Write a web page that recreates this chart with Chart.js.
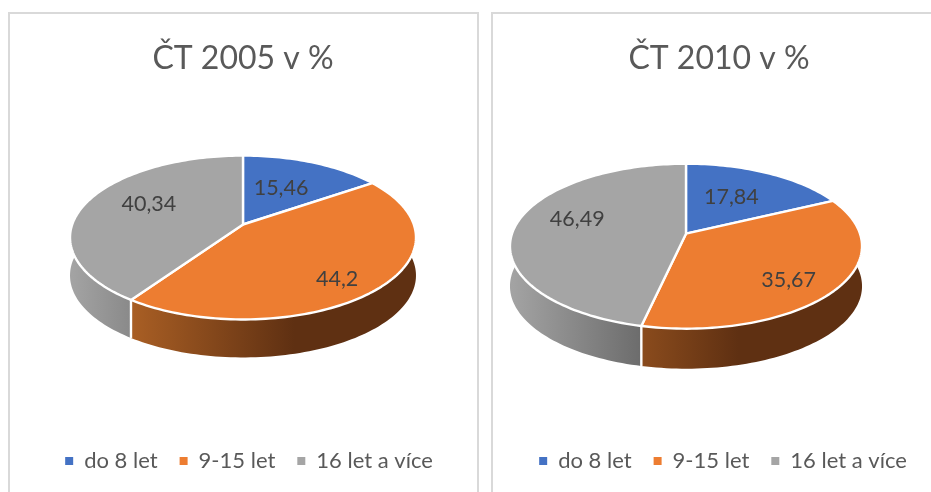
<!DOCTYPE html>
<html lang="cs">
<head>
<meta charset="utf-8">
<title>ČT 2005 a 2010</title>
<script src="https://cdn.jsdelivr.net/npm/chart.js@4"></script>
<style>
html,body{margin:0;padding:0;width:931px;height:492px;overflow:hidden;background:#fff}
.panel{position:absolute;top:12px;height:500px;border:2px solid #d9d9d9;box-sizing:border-box;background:#fff}
.holder{position:absolute;top:0;height:482px}
canvas{display:block}
</style>
</head>
<body>
<div class="panel" style="left:8px;width:471px"></div>
<div class="panel" style="left:491px;width:470px"></div>
<div class="holder" style="left:8px;width:470px"><canvas id="c1" width="470" height="482"></canvas></div>
<div class="holder" style="left:492px;width:454px"><canvas id="c2" width="454" height="482"></canvas></div>
<script>
const categories = ['do 8 let', '9-15 let', '16 let a více'];
const values2005 = [15.46, 44.2, 40.34];
const values2010 = [17.84, 35.67, 46.49];
const title2005 = 'ČT 2005 v %';
const title2010 = 'ČT 2010 v %';
const sliceColors = ['#4472c4', '#ed7d31', '#a5a5a5'];

const wallGradients = [
  [[0, '#3a619f'], [1, '#1f3a6a']],
  [[0, '#c66e2a'], [0.18, '#a85e24'], [0.65, '#5f3012'], [1, '#5f3012']],
  [[0, '#a3a3a3'], [0.4, '#686868'], [1, '#686868']]
];

// Perspective view of a flat disc: screen offsets follow u/(1-k v), v/(1-k v).
const view2005 = {dx: 0, dy: -33.2, rx: 170.8, ry: 79.9, k: 0.1585, depth: 38, legendShift: 6,
  labelRadius: [0.541, 0.794, 0.636], labelTurn: [-1.5, 6, 8]};
const view2010 = {dx: -33, dy: -24, rx: 174, ry: 80.6, k: 0.1515, depth: 40, legendShift: 4,
  labelRadius: [0.567, 0.755, 0.67], labelTurn: [-2.5, 5.6, 10]};

function project(v, el, turn, r) {
  const u = r * Math.cos(turn), w = r * Math.sin(turn);
  const d = 1 - v.k * w;
  return {x: el.x + v.dx + v.rx * u / d, y: el.y + v.dy + v.ry * w / d};
}
function samples(el) {
  const n = Math.max(2, Math.ceil((el.endAngle - el.startAngle) * 40));
  const out = [];
  for (let i = 0; i <= n; i++) out.push(el.startAngle + (el.endAngle - el.startAngle) * i / n);
  return out;
}

const pie3d = {
  id: 'pie3d',
  afterLayout(chart, args, opts) {
    chart.legend.left += opts.view.legendShift;
    chart.legend.right += opts.view.legendShift;
  },
  beforeDatasetsDraw(chart, args, opts) {
    const ctx = chart.ctx, v = opts.view;
    const els = chart.getDatasetMeta(0).data;
    ctx.save();
    ctx.lineJoin = 'round';
    // side walls
    els.forEach((el, i) => {
      const top = samples(el).map(a => project(v, el, a, 1));
      const g = ctx.createLinearGradient(el.x + v.dx - v.rx, 0, el.x + v.dx + v.rx, 0);
      wallGradients[i].forEach(s => g.addColorStop(s[0], s[1]));
      ctx.beginPath();
      top.forEach((p, j) => j ? ctx.lineTo(p.x, p.y) : ctx.moveTo(p.x, p.y));
      top.slice().reverse().forEach(p => ctx.lineTo(p.x, p.y + v.depth));
      ctx.closePath();
      ctx.fillStyle = g;
      ctx.fill();
    });
    // white seams on the front of the wall
    els.forEach(el => {
      const p = project(v, el, el.startAngle, 1);
      if (Math.sin(el.startAngle) > 0.2) {
        ctx.beginPath();
        ctx.moveTo(p.x, p.y);
        ctx.lineTo(p.x, p.y + v.depth);
        ctx.strokeStyle = '#fff';
        ctx.lineWidth = 2.4;
        ctx.stroke();
      }
    });
    // top faces
    els.forEach(el => {
      const apex = project(v, el, 0, 0);
      ctx.beginPath();
      ctx.moveTo(apex.x, apex.y);
      samples(el).forEach(a => { const p = project(v, el, a, 1); ctx.lineTo(p.x, p.y); });
      ctx.closePath();
      ctx.fillStyle = el.options.backgroundColor;
      ctx.fill();
      ctx.strokeStyle = '#fff';
      ctx.lineWidth = 2.4;
      ctx.stroke();
    });
    // value labels
    const data = chart.data.datasets[0].data;
    ctx.font = '21.5px Lato';
    ctx.fillStyle = '#404040';
    ctx.textAlign = 'center';
    ctx.textBaseline = 'middle';
    els.forEach((el, i) => {
      const mid = (el.startAngle + el.endAngle) / 2 + v.labelTurn[i] * Math.PI / 180;
      const p = project(v, el, mid, v.labelRadius[i]);
      ctx.fillText(String(data[i]).replace('.', ','), p.x, p.y);
    });
    ctx.restore();
    return false;
  }
};

function makeChart(id, titleText, values, view) {
  return new Chart(document.getElementById(id), {
    type: 'pie',
    data: {labels: categories, datasets: [{data: values, backgroundColor: sliceColors, borderWidth: 0}]},
    plugins: [pie3d],
    options: {
      responsive: false,
      animation: false,
      events: [],
      layout: {padding: 0},
      plugins: {
        pie3d: {view},
        tooltip: {enabled: false},
        title: {display: true, text: titleText, color: '#595959',
          font: {family: 'Lato', size: 32, weight: 'normal'}, padding: {top: 39, bottom: 10}},
        legend: {position: 'bottom',
          labels: {boxWidth: 8, boxHeight: 8, padding: 22, color: '#595959', font: {family: 'Lato', size: 22}}}
      }
    }
  });
}
Chart.defaults.font.family = 'Lato';
makeChart('c1', title2005, values2005, view2005);
makeChart('c2', title2010, values2010, view2010);
</script>
</body>
</html>
